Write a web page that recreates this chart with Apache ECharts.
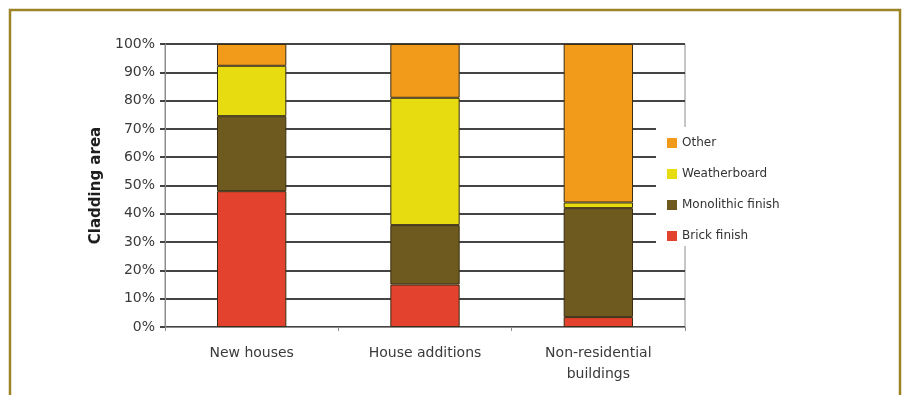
<!DOCTYPE html>
<html>
<head>
  <meta charset="utf-8" />
  <title>Cladding area</title>
  <script src="https://cdn.jsdelivr.net/npm/echarts@6/dist/echarts.min.js"></script>
  <style>
    html, body { margin: 0; padding: 0; background: #fff; }
    #chart { width: 907px; height: 395px; }
  </style>
</head>
<body>
  <div id="chart"></div>
  <script type="text/javascript">
    // categories + stacked shares (%)
    var categories = ["New houses", "House additions", "Non-residential\nbuildings"]
    var brickFinish = [48, 15, 3.5]
    var monolithicFinish = [26.5, 21, 38.5]
    var weatherboard = [17.8, 45, 2]
    var other = [7.7, 19, 56]
    var legendOrder = ["Other", "Weatherboard", "Monolithic finish", "Brick finish"]

    var FONT = "DejaVu Sans"

    function barSeries(name, data, color) {
      return {
        name: name,
        type: "bar",
        stack: "total",
        barWidth: "40%",
        data: data,
        itemStyle: {
          color: color,
          borderColor: "#3b2e12",
          borderWidth: 1
        }
      }
    }

    var myChart = echarts.init(document.getElementById("chart"), null, { renderer: "canvas" })

    var option = {
      backgroundColor: "#fff",
      animation: false,
      graphic: [
        {
          type: "polyline",
          shape: { points: [[10, 395], [10, 10], [900, 10], [900, 395]] },
          style: { stroke: "#9a8426", lineWidth: 2.5, fill: null },
          silent: true
        }
      ],
      grid: {
        left: 165,
        right: 222,
        top: 44,
        bottom: 68,
        show: true,
        borderColor: "#8c8c8c",
        borderWidth: 1
      },
      legend: {
        data: legendOrder,
        orient: "vertical",
        left: 656,
        top: 127,
        backgroundColor: "#fff",
        padding: [10, 30, 4, 11],
        itemWidth: 10,
        itemHeight: 10,
        itemGap: 19,
        icon: "rect",
        itemStyle: { borderWidth: 0 },
        textStyle: { fontFamily: FONT, fontSize: 12, color: "#333" }
      },
      xAxis: {
        type: "category",
        data: categories,
        axisLine: { lineStyle: { color: "#8c8c8c", width: 1 } },
        axisTick: { show: true, length: 4, lineStyle: { color: "#8c8c8c" } },
        axisLabel: {
          margin: 16,
          fontFamily: FONT,
          fontSize: 14,
          color: "#3a3a3a",
          lineHeight: 21
        }
      },
      yAxis: {
        type: "value",
        min: 0,
        max: 100,
        interval: 10,
        name: "Cladding area",
        nameLocation: "middle",
        nameGap: 58,
        nameTextStyle: { fontFamily: FONT, fontSize: 15, fontWeight: "bold", color: "#1e1e1e" },
        axisLine: { show: true, lineStyle: { color: "#8c8c8c", width: 1 } },
        axisTick: { show: true, length: 5, lineStyle: { color: "#444", width: 2 } },
        axisLabel: {
          margin: 10,
          formatter: "{value}%",
          fontFamily: FONT,
          fontSize: 14,
          color: "#3a3a3a"
        },
        splitLine: { show: true, lineStyle: { color: "#444", width: 2 } }
      },
      series: [
        barSeries("Brick finish", brickFinish, "#e3432e"),
        barSeries("Monolithic finish", monolithicFinish, "#6e5a1f"),
        barSeries("Weatherboard", weatherboard, "#e6dc10"),
        barSeries("Other", other, "#f29b1b")
      ]
    }
    myChart.setOption(option, true)
  </script>
</body>
</html>
